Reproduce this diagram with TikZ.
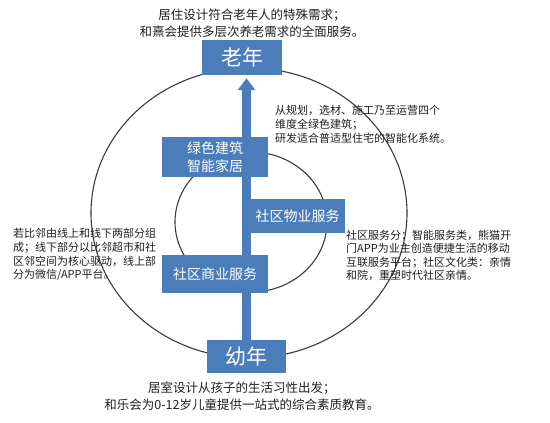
\documentclass[tikz,border=0pt]{standalone}
\usepackage{fontspec}
\setmainfont{Noto Sans CJK SC}
\usetikzlibrary{arrows.meta,backgrounds}
\definecolor{boxblue}{HTML}{4A7DBA}
\definecolor{ringgray}{HTML}{3C3C3C}
\definecolor{txt}{HTML}{202020}
\tikzset{
  bluebox/.style={fill=boxblue,draw=none,text=white,inner sep=0pt,align=center},
  ring/.style={draw=ringgray,line width=1.1pt},
  note/.style={text=txt,inner sep=0pt,font=\fontsize{11}{13.6}\selectfont},
  capnote/.style={text=txt,inner sep=0pt,align=center,font=\fontsize{12.5}{17}\selectfont}
}
\begin{document}
\begin{tikzpicture}[x=1pt,y=-1pt]
\useasboundingbox (0,0) rectangle (550,423);
% boxes
\node[bluebox,minimum width=80pt,minimum height=35pt,font=\fontsize{21}{21}\selectfont] (ln) at (242,57.5) {老年};
\node[bluebox,minimum width=79pt,minimum height=33pt,font=\fontsize{21}{21}\selectfont] (yn) at (246.5,356.5) {幼年};
\node[bluebox,minimum width=106pt,minimum height=40pt,font=\fontsize{14}{17.5}\selectfont] (lv) at (215,157) {绿色建筑\\智能家居};
\node[bluebox,minimum width=95pt,minimum height=34pt,font=\fontsize{14}{14}\selectfont] (wy) at (297.5,216) {社区物业服务};
\node[bluebox,minimum width=106pt,minimum height=38pt,font=\fontsize{14}{14}\selectfont] (sy) at (215,274) {社区商业服务};
% circles and spine
\begin{scope}[on background layer]
  \fill[white] (0,0) rectangle (550,423);
  \draw[ring] (249,213) ellipse [x radius=158pt, y radius=145pt];
  \draw[ring] (251,222) ellipse [x radius=76pt, y radius=70pt];
  \draw[boxblue,line width=9pt,shorten >=3pt,-{Triangle[width=17pt,length=12pt]}] (yn.north) -- (yn.north |- ln.south);
\end{scope}
% texts
\node[capnote,anchor=north] (tt) at (252,8.5) {居住设计符合老年人的特殊需求；\\和熹会提供多层次养老需求的全面服务。};
\node[capnote,anchor=north] (bt) at (242,381.5) {居室设计从孩子的生活习性出发；\\和乐会为0-12岁儿童提供一站式的综合素质教育。};
\node[note,align=left,anchor=north west] (ru) at (275,105.5) {从规划，选材、施工乃至运营四个\\维度全绿色建筑；\\研发适合普适型住宅的智能化系统。};
\node[note,align=left,anchor=north west] (lt) at (13,228.5) {若比邻由线上和线下两部分组\\成；线下部分以比邻超市和社\\区邻空间为核心驱动，线上部\\分为微信/APP平台。};
\node[note,align=left,anchor=north west] (rl) at (346,229.5) {社区服务分：智能服务类，熊猫开\\门APP为业主创造便捷生活的移动\\互联服务平台；社区文化类：亲情\\和院，重塑时代社区亲情。};
\end{tikzpicture}
\end{document}
